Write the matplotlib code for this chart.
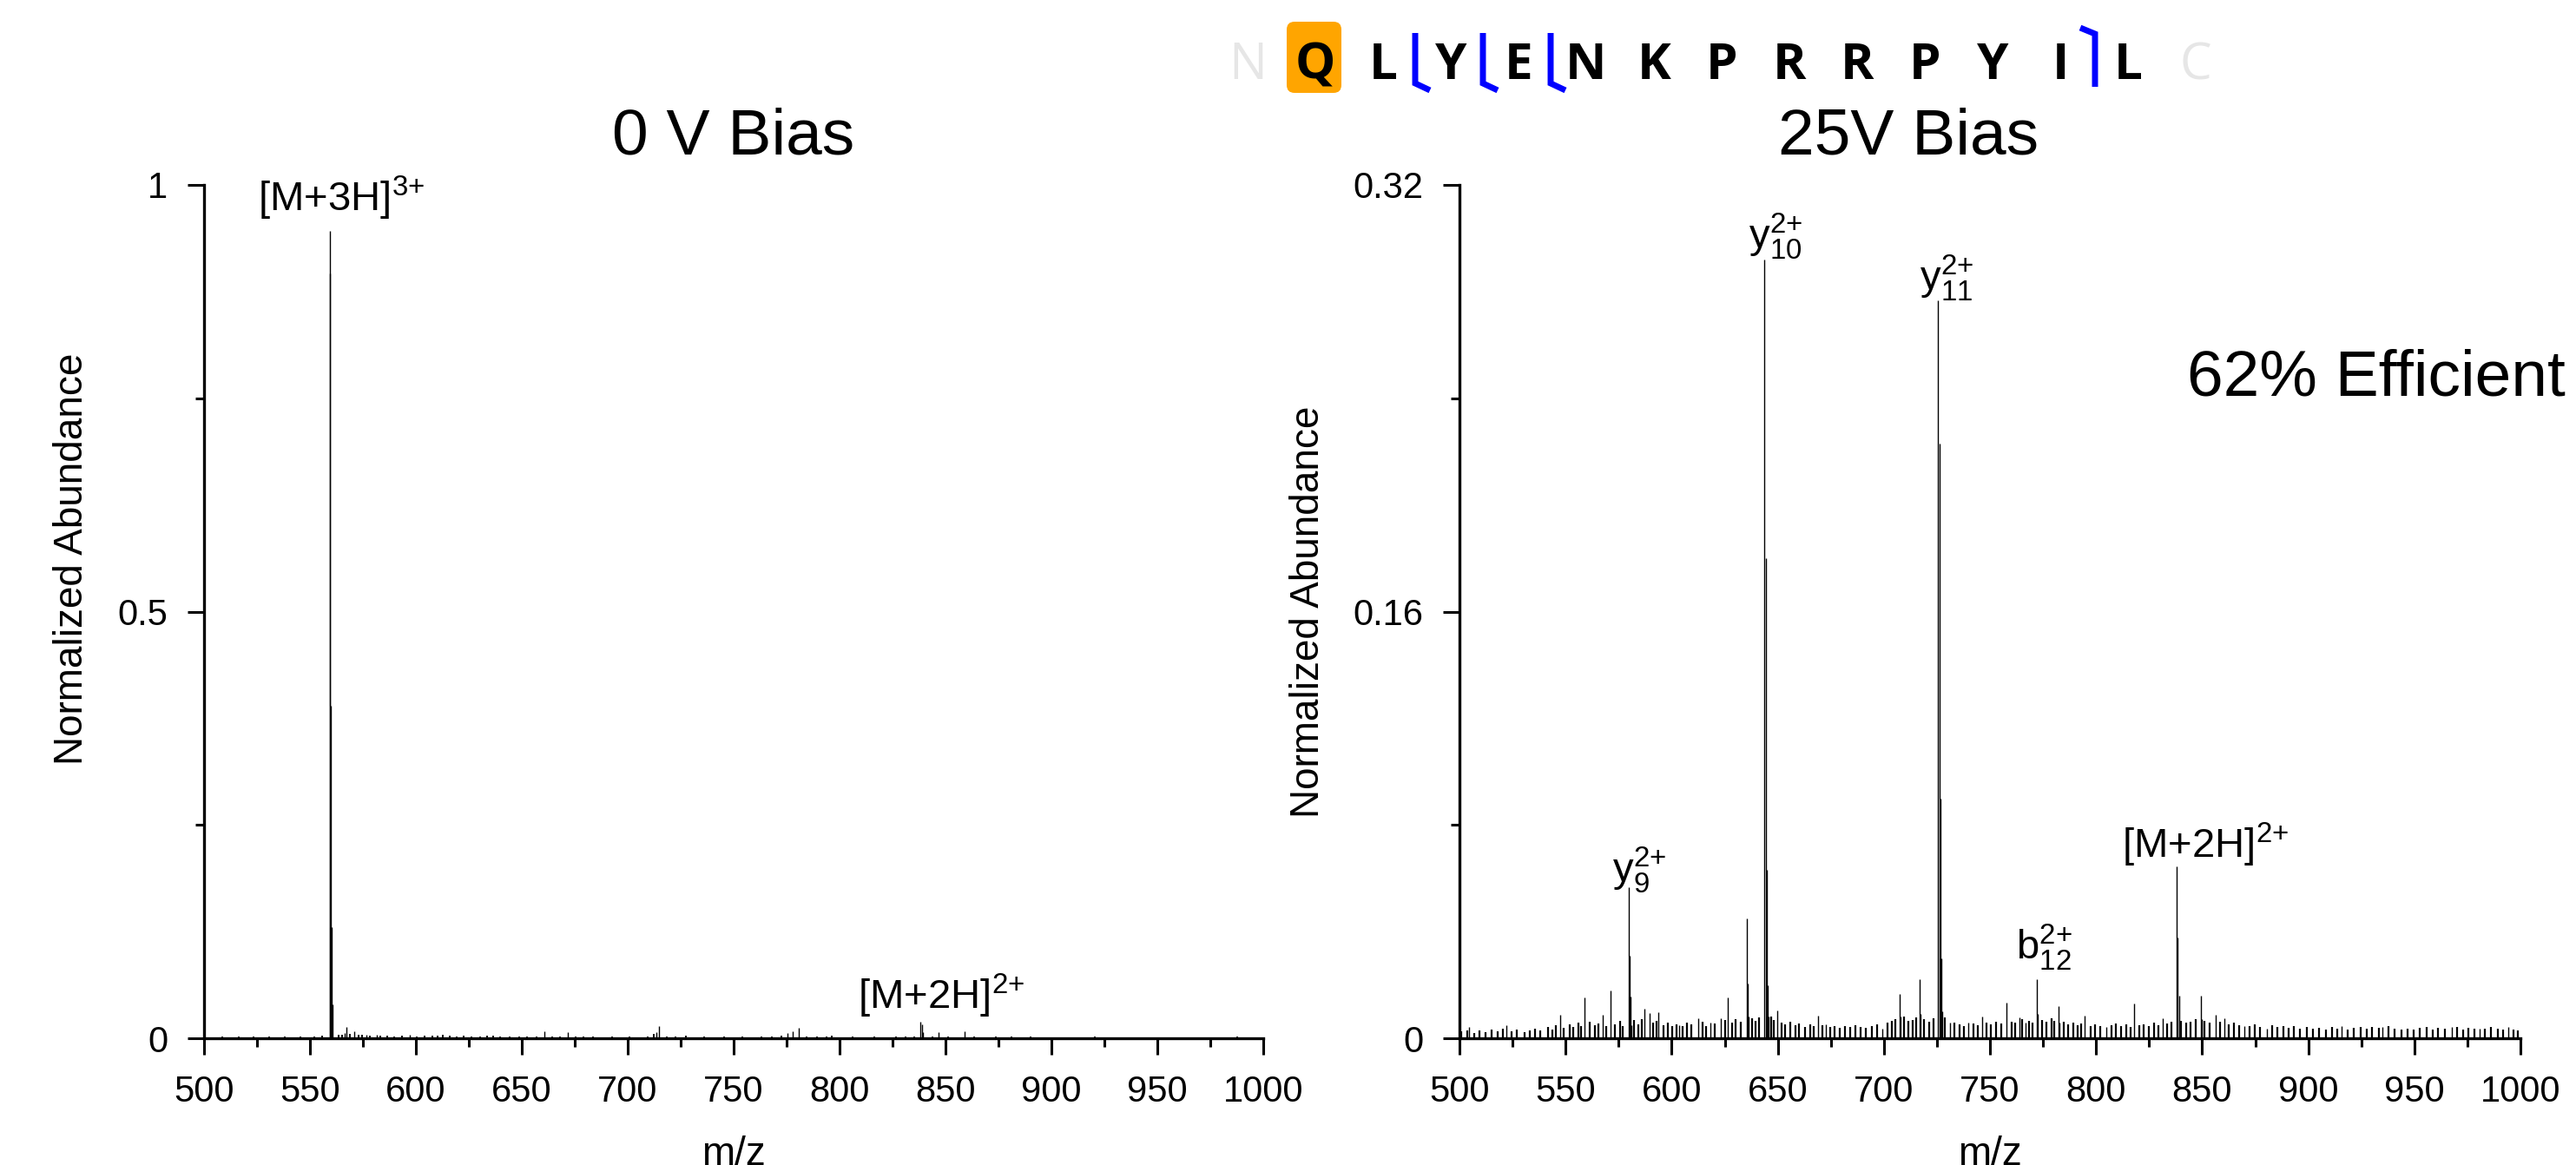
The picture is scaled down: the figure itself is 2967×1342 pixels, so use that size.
import matplotlib
matplotlib.use("Agg")
import matplotlib.pyplot as plt
from matplotlib.patches import FancyBboxPatch
from matplotlib.lines import Line2D
from matplotlib.transforms import IdentityTransform
from matplotlib.ticker import MultipleLocator, FixedLocator

plt.rcParams['font.family'] = ['Liberation Sans', 'DejaVu Sans']
plt.rcParams['mathtext.fontset'] = 'custom'
plt.rcParams['mathtext.rm'] = 'Liberation Sans'
plt.rcParams['mathtext.it'] = 'Liberation Sans:italic'
plt.rcParams['mathtext.bf'] = 'Liberation Sans:bold'
plt.rcParams['mathtext.default'] = 'regular'

# ---------------- data ----------------
# 0 V bias spectrum: (m/z, normalized abundance)
left_isotopes_M3H = [(559.3, 0.946), (559.63, 0.896), (559.97, 0.39), (560.3, 0.13), (560.63, 0.04)]
left_isotopes_M2H = [(838.3, 0.0196), (838.8, 0.016), (839.3, 0.007)]
left_peaks = [(566.5, 0.006), (567.3, 0.0135), (570.9, 0.008), (576.6, 0.004), (581.6, 0.0045),
              (597.0, 0.004), (660.7, 0.0085), (671.6, 0.007), (713.5, 0.007), (714.8, 0.0146),
              (775.3, 0.006), (777.9, 0.008), (780.7, 0.012), (846.6, 0.007), (858.9, 0.0085)]
left_grass = [(501.5, .0015), (505.2, .001), (508.8, .002), (512.4, .0012), (516.3, .0018), (519.7, .001),
              (523.5, .0022), (527.1, .0014), (530.9, .0019), (534.6, .0012), (538.2, .0016), (541.8, .0011),
              (545.3, .0024), (548.7, .0015), (552.2, .0021), (555.6, .0028), (563.4, .0045), (565.1, .0038),
              (568.9, .0052), (572.8, .0041), (574.6, .0036), (578.3, .0033), (583.2, .0029), (586.4, .0031),
              (589.9, .0025), (593.5, .0028), (600.6, .0022), (604.2, .0026), (607.8, .0031), (610.3, .0034),
              (612.9, .0036), (616.1, .0029), (619.4, .0024), (622.7, .0027), (626.3, .0021), (630.5, .0025),
              (633.8, .0031), (636.4, .0033), (639.9, .0019), (644.2, .0023), (648.6, .0018), (652.3, .0021),
              (656.8, .0017), (664.5, .0024), (668.2, .0019), (675.4, .0022), (679.1, .0016), (683.7, .0018),
              (687.4, .0015), (692.6, .0021), (696.3, .0014), (700.8, .0017), (705.2, .0015), (709.6, .0019),
              (712.4, .0048), (718.3, .0021), (722.5, .0016), (727.5, .0033), (731.4, .0015), (736.2, .0018),
              (740.7, .0014), (745.3, .0016), (749.8, .0013), (754.1, .0017), (758.6, .0014), (763.2, .0018),
              (767.9, .0021), (772.4, .0035), (784.6, .0024), (789.2, .0019), (793.8, .0016), (796.2, .0027),
              (801.5, .0015), (806.3, .0018), (811.7, .0014), (816.4, .0017), (821.2, .0015), (826.5, .0019),
              (831.3, .0016), (835.2, .0021), (843.7, .0018), (851.4, .0016), (855.2, .0014), (863.5, .0017),
              (868.2, .0013), (873.6, .0016), (878.4, .0014), (881.2, .0022), (885.7, .0015), (890.1, .0024),
              (895.3, .0014), (900.2, .0013), (905.6, .0015), (910.4, .0012), (915.8, .0014), (920.3, .0023),
              (925.7, .0013), (930.6, .0012), (936.2, .0014), (941.5, .0011), (946.8, .0013), (952.3, .0012),
              (957.4, .0014), (962.6, .0011), (967.9, .0013), (973.2, .0012), (978.5, .0013), (983.8, .0011),
              (987.6, .0022), (992.4, .0012), (997.1, .0013)]

# 25 V bias spectrum
right_y9 = [(579.6, 0.0567), (580.1, 0.031), (580.6, 0.0156), (581.1, 0.005)]
right_635 = [(635.3, 0.045), (635.8, 0.0205), (636.3, 0.008)]
right_y10 = [(643.8, 0.292), (644.3, 0.18), (644.8, 0.063), (645.3, 0.02), (645.8, 0.008)]
right_y11 = [(725.6, 0.2767), (726.1, 0.223), (726.6, 0.09), (727.1, 0.03), (727.6, 0.01)]
right_b12 = [(772.0, 0.0221), (772.5, 0.009)]
right_M2H = [(838.0, 0.0646), (838.5, 0.0378), (839.0, 0.016), (839.5, 0.006)]
right_peaks = [(504.4, 0.0041), (522.0, 0.0049), (547.6, 0.0088), (559.0, 0.0152), (567.4, 0.0088),
               (571.3, 0.018), (587.3, 0.011), (589.5, 0.0095), (593.8, 0.0098), (603.5, 0.005),
               (612.4, 0.0076), (618.1, 0.0058), (623.0, 0.0074), (626.6, 0.0152), (649.6, 0.0105),
               (668.9, 0.0085), (672.7, 0.0052), (699.3, 0.0035), (707.4, 0.0166), (707.9, 0.008),
               (716.9, 0.0222), (717.4, 0.009), (731.0, 0.006), (739.8, 0.0058), (746.2, 0.008),
               (757.6, 0.0135), (763.8, 0.0078), (766.6, 0.006), (782.3, 0.0122), (782.8, 0.006),
               (794.8, 0.0085), (804.8, 0.0042), (817.9, 0.013), (831.5, 0.0075), (849.3, 0.0158),
               (849.8, 0.007), (856.5, 0.0088), (860.4, 0.0075), (869.9, 0.0047), (880.5, 0.0037),
               (915.7, 0.0044), (935.0, 0.0043), (967.5, 0.0041), (980.8, 0.0037), (994.3, 0.0043)]
right_grass = [(500.8, .0025), (503.5, .003), (506.9, .002), (509.6, .0028), (512.3, .0022), (515.1, .0031),
               (517.8, .0026), (520.4, .0035), (524.7, .0027), (527.2, .0032), (530.5, .0024), (533.1, .003),
               (535.8, .0036), (538.2, .0029), (541.6, .0042), (543.9, .0033), (545.3, .0048), (549.2, .0039),
               (551.8, .0052), (553.7, .0041), (556.1, .0058), (557.4, .0046), (561.2, .0062), (563.9, .0049),
               (565.4, .0055), (569.3, .0047), (573.2, .0051), (575.6, .0064), (577.1, .0044), (582.4, .0068),
               (584.3, .0052), (585.8, .0071), (591.2, .0058), (592.7, .0066), (596.3, .0049), (598.1, .0057),
               (600.4, .0046), (602.2, .0053), (605.1, .0044), (607.3, .0059), (609.4, .0051), (614.6, .0063),
               (616.2, .0047), (620.1, .0055), (625.1, .0069), (628.4, .0058), (630.2, .0072), (632.6, .0061),
               (637.9, .0075), (639.4, .0066), (641.2, .0078), (646.8, .0081), (648.1, .0069), (651.6, .0058),
               (653.4, .0052), (655.9, .0061), (658.3, .0048), (660.1, .0055), (662.7, .0043), (665.2, .0051),
               (667.1, .0046), (671.2, .0049), (674.6, .0042), (676.9, .0047), (679.3, .0039), (681.8, .0045),
               (684.1, .0041), (686.7, .0048), (689.2, .0043), (691.5, .0039), (694.3, .0046), (696.8, .0052),
               (701.7, .0058), (703.9, .0066), (705.6, .0071), (709.3, .0083), (711.6, .0064), (713.4, .0069),
               (715.2, .0078), (719.1, .0072), (721.3, .0061), (723.4, .0075), (728.8, .0079), (733.4, .0058),
               (735.6, .0052), (737.7, .0046), (742.1, .0055), (744.3, .0049), (748.4, .0057), (750.6, .0051),
               (752.8, .0062), (755.2, .0054), (760.1, .0063), (761.9, .0058), (765.2, .0071), (768.3, .0066),
               (770.1, .0059), (774.4, .0068), (776.6, .0061), (778.9, .0074), (780.4, .0065), (784.6, .0062),
               (786.8, .0053), (789.2, .0058), (791.5, .0049), (793.1, .0055), (797.4, .0047), (799.6, .0052),
               (801.9, .0045), (807.2, .0049), (809.5, .0054), (811.8, .0046), (814.1, .0051), (816.2, .0043),
               (820.3, .0048), (822.6, .0052), (824.9, .0045), (827.2, .0057), (829.4, .0049), (833.6, .0054),
               (835.4, .0061), (840.2, .0066), (842.5, .0058), (844.7, .0062), (847.1, .0071), (851.2, .0064),
               (853.6, .0057), (858.3, .0061), (862.7, .0053), (865.1, .0058), (867.4, .0049), (872.2, .0046),
               (874.8, .0051), (877.3, .0043), (882.9, .0048), (885.6, .0041), (888.1, .0046), (890.7, .0038),
               (893.4, .0044), (896.2, .0037), (899.5, .0042), (902.3, .0035), (905.1, .0039), (908.4, .0034),
               (911.2, .0041), (913.8, .0036), (918.4, .0033), (921.3, .0039), (924.6, .0043), (927.5, .0036),
               (930.1, .0041), (933.2, .0038), (937.8, .0046), (940.6, .0035), (943.9, .0031), (946.7, .0037),
               (949.5, .0033), (952.4, .0038), (955.8, .0042), (958.6, .0034), (961.3, .0039), (964.2, .0036),
               (970.1, .0041), (972.9, .0034), (975.6, .0038), (978.2, .0035), (983.4, .0037), (986.1, .0043),
               (989.3, .0036), (991.8, .0031), (996.9, .0034), (998.7, .0029)]

left_yticks = [0, 0.5, 1]
left_yticklabels = ['0', '0.5', '1']
left_yminor = [0.25, 0.75]
right_yticks = [0, 0.16, 0.32]
right_yticklabels = ['0', '0.16', '0.32']
right_yminor = [0.08, 0.24]

sequence = "QLYENKPRRPYIL"
y_ions = [9, 10, 11]
b_ions = [12]

# ---------------- figure ----------------
W, H = 2967, 1342
DPI = 100
fig = plt.figure(figsize=(W / DPI, H / DPI), dpi=DPI)


def fx(px):
    return px / W


def fy(py):
    return 1 - py / H


axL = fig.add_axes([fx(235), fy(1196), (1455 - 235) / W, (1196 - 213) / H])
axR = fig.add_axes([fx(1681), fy(1196), (2903 - 1681) / W, (1196 - 213) / H])


def sticks(ax, pairs, lw=1.0, color='black'):
    mz = [p[0] for p in pairs]
    h = [p[1] for p in pairs]
    ax.vlines(mz, 0, h, colors=color, linewidth=lw, zorder=2)


sticks(axL, left_grass, lw=1.3)
for pairs in [left_peaks, left_isotopes_M2H, left_isotopes_M3H]:
    sticks(axL, pairs)
sticks(axR, right_grass, lw=1.6)
for pairs in [right_peaks, right_y9, right_635, right_y10, right_y11, right_b12, right_M2H]:
    sticks(axR, pairs)

for ax, ylim, yt, ytl, ymin in [(axL, 1.0, left_yticks, left_yticklabels, left_yminor),
                                (axR, 0.32, right_yticks, right_yticklabels, right_yminor)]:
    ax.set_xlim(500, 1000)
    ax.set_ylim(0, ylim)
    ax.xaxis.set_major_locator(MultipleLocator(50))
    ax.xaxis.set_minor_locator(MultipleLocator(25))
    ax.set_yticks(yt)
    ax.set_yticklabels(ytl)
    ax.yaxis.set_minor_locator(FixedLocator(ymin))
    for s in ['top', 'right']:
        ax.spines[s].set_visible(False)
    for s in ['left', 'bottom']:
        ax.spines[s].set_linewidth(2.4)
        ax.spines[s].set_zorder(3)
    ax.tick_params(which='major', direction='out', length=13.7, width=2.2, labelsize=30, pad=16.5)
    ax.tick_params(which='minor', direction='out', length=7, width=2.2)
    ax.set_facecolor('none')
    ax.set_xlabel('m/z', fontsize=33)
    ax.xaxis.set_label_coords(0.5, -0.114)
    ax.set_ylabel('Normalized Abundance', fontsize=33)

axL.yaxis.set_label_coords(-0.1066, 0.5615)
axR.yaxis.set_label_coords(-0.124, 0.50)

# titles
axL.text(0.5, (1196 - 178) / 983, '0 V Bias', transform=axL.transAxes, ha='center', va='baseline', fontsize=54)
axR.text(0.423, (1196 - 178) / 983, '25V Bias', transform=axR.transAxes, ha='center', va='baseline', fontsize=54)
axR.text(0.6858, 0.7528, '62% Efficient', transform=axR.transAxes, ha='left', va='baseline', fontsize=54)


# peak labels (offsets in pixels, converted to points)
def label(ax, text, peak, dx_px, dy_px, fs=34):
    ax.annotate(text, xy=peak, xytext=(dx_px * 72 / DPI, dy_px * 72 / DPI), textcoords='offset points',
                ha='left', va='baseline', fontsize=fs, zorder=4)


label(axL, r'[M+3H]$^{3{+}}$', left_isotopes_M3H[0], -83, 23)
label(axL, r'[M+2H]$^{2{+}}$', left_isotopes_M2H[0], -72, 14)
label(axR, r'y$_{9}^{2{+}}$', right_y9[0], -19, 6)
label(axR, r'y$_{10}^{2{+}}$', right_y10[0], -18, 13)
label(axR, r'y$_{11}^{2{+}}$', right_y11[0], -21, 12)
label(axR, r'b$_{12}^{2{+}}$', right_b12[0], -24, 23)
label(axR, r'[M+2H]$^{2{+}}$', right_M2H[0], -63, 9)

# ---------------- sequence map ----------------
letters = ['N'] + list(sequence) + ['C']
x0_px, step_px = 1437, 78
base_px = 91
for k, ch in enumerate(letters):
    xpx = x0_px + step_px * k
    terminal = k == 0 or k == len(letters) - 1
    fig.text(fx(xpx), fy(base_px), ch, ha='center', va='baseline', fontsize=42,
             family=['Open Sans', 'DejaVu Sans'], fontweight='normal' if terminal else 'bold',
             color='#e6e6e6' if terminal else 'black', zorder=5)

# modified residue box (Q)
box = FancyBboxPatch((1482, H - 107), 63, 82, boxstyle='round,pad=0,rounding_size=9',
                     transform=IdentityTransform(), facecolor='#ffa500', edgecolor='none', zorder=1)
fig.add_artist(box)

n = len(sequence)
for yi in y_ions:
    kgap = n - yi + 0.5  # between residue (n-yi) and (n-yi+1)
    xc = x0_px + step_px * kgap - 2
    ln = Line2D([xc, xc, xc + 17], [H - 38, H - 96, H - 104], transform=IdentityTransform(),
                color='#0000ff', lw=5, solid_joinstyle='miter', solid_capstyle='butt', zorder=6)
    fig.add_artist(ln)
for bi in b_ions:
    kgap = bi + 0.5
    xc = x0_px + step_px * kgap + 1
    ln = Line2D([xc - 17, xc, xc], [H - 32, H - 39, H - 100], transform=IdentityTransform(),
                color='#0000ff', lw=5, solid_joinstyle='miter', solid_capstyle='butt', zorder=6)
    fig.add_artist(ln)

fig.savefig('out.png', dpi=DPI)
